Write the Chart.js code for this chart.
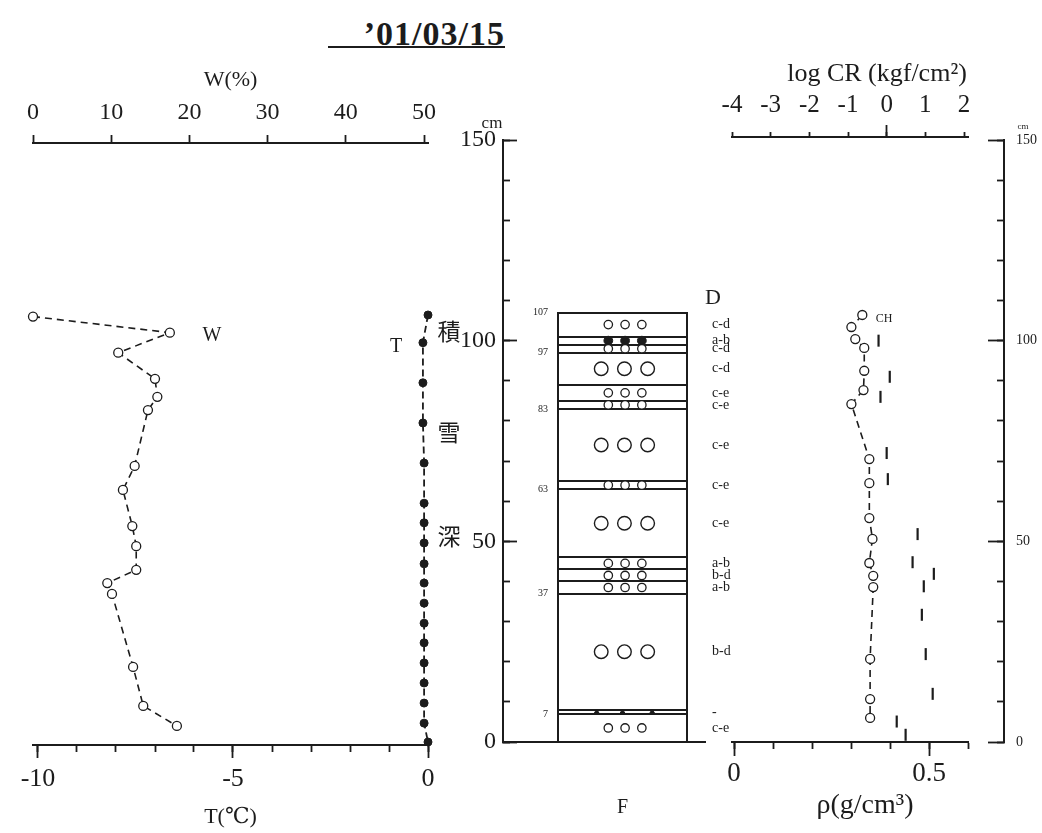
<!DOCTYPE html>
<html><head><meta charset="utf-8">
<script src="https://cdn.jsdelivr.net/npm/chart.js@4.4.1/dist/chart.umd.min.js"></script>
<style>
html,body{margin:0;padding:0;background:#fff;}
#wrap{position:relative;width:1042px;height:833px;overflow:hidden;background:#fff;}
canvas{position:absolute;top:0;}
#title{position:absolute;left:328px;top:21px;width:177px;height:25px;line-height:25px;text-align:right;
 font-family:'Liberation Serif',serif;font-weight:bold;font-size:34px;letter-spacing:1px;color:#1c1c1c;border-bottom:2px solid #1c1c1c;}
</style></head><body>
<div id="wrap">
<div id="title">’01/03/15</div>
<canvas id="cL" width="470" height="833" style="left:0px;width:470px;height:833px"></canvas>
<canvas id="cM" width="320" height="833" style="left:400px;width:320px;height:833px"></canvas>
<canvas id="cP" width="400" height="833" style="left:400px;width:400px;height:833px"></canvas>
<canvas id="cR" width="342" height="833" style="left:700px;width:342px;height:833px"></canvas>
<canvas id="cR2" width="82" height="833" style="left:960px;width:82px;height:833px"></canvas>
</div>
<script>
// ---------------- data ----------------
const wHeights = [106, 102, 97, 90.5, 86, 82.7, 68.8, 62.8, 53.8, 48.8, 42.9, 39.6, 36.9, 18.7, 9, 4];
const wValues  = [0, 17.5, 10.9, 15.6, 15.9, 14.7, 13.0, 11.5, 12.7, 13.2, 13.2, 9.5, 10.1, 12.8, 14.1, 18.4];
const tHeights = [106.4, 99.5, 89.5, 79.5, 69.5, 59.5, 54.6, 49.6, 44.4, 39.6, 34.6, 29.6, 24.7, 19.7, 14.7, 9.7, 4.7, 0];
const tValues  = [0, -0.13, -0.13, -0.13, -0.1, -0.1, -0.1, -0.1, -0.1, -0.1, -0.1, -0.1, -0.1, -0.1, -0.1, -0.1, -0.1, 0];
const rhoHeights = [106.4, 103.4, 100.4, 98.2, 92.5, 87.7, 84.2, 70.5, 64.5, 55.8, 50.6, 44.6, 41.4, 38.6, 20.7, 10.7, 6.0];
const rhoValues  = [0.329, 0.301, 0.311, 0.334, 0.334, 0.332, 0.301, 0.347, 0.347, 0.347, 0.355, 0.347, 0.357, 0.357, 0.349, 0.349, 0.349];
const crHeights = [100, 91, 86, 72, 65.5, 51.8, 44.8, 41.9, 38.8, 31.7, 21.9, 12, 5.1, 1.8];
const crValues  = [-0.21, 0.08, -0.16, 0, 0.03, 0.80, 0.67, 1.22, 0.96, 0.91, 1.01, 1.19, 0.26, 0.49];
const layerBounds = [0, 7, 8, 37, 40, 43, 46, 63, 65, 83, 85, 89, 97, 99, 101, 107];
const boundaryLabels = [7, 37, 63, 83, 97, 107];
const grainShapes = ['s','t','b','s','s','s','b','s','b','s','s','b','s','f','s'];
const grainSizes = ['c-e','-','b-d','a-b','b-d','a-b','c-e','c-e','c-e','c-e','c-e','c-d','c-d','a-b','c-d'];
const heightMinorTicks = [0,10,20,30,40,50,60,70,80,90,100,110,120,130,140,150];
const heightMajorTicks = [0,50,100,150];
const tMinorTicks = [-10,-9,-8,-7,-6,-5,-4,-3,-2,-1,0];
const tMajorTicks = [-10,-5,0];
const wTicks = [0,10,20,30,40,50];
const rhoMinorTicks = [0,0.1,0.2,0.3,0.4,0.5,0.6];
const rhoMajorTicks = [0,0.5];
const crTicks = [-4,-3,-2,-1,0,1,2];
const crMajorTicks = [0];

// ---------------- setup ----------------
const INK = '#1c1c1c';
const SERIF = "'Liberation Serif','DejaVu Serif',serif";
Chart.defaults.font.family = SERIF;
Chart.defaults.color = INK;
Chart.defaults.borderColor = INK;
const PXCM = 602 / 150;           // pixels per cm of snow height
const setTicks = arr => (s => { s.ticks = arr.map(v => ({value: v})); });
const zeroH = s => { s.height = 0; };
const zeroW = s => { s.width = 0; };
const fixH = h => (s => { s.height = h; });
const fixW = w => (s => { s.width = w; });
const pts = (xs, ys) => xs.map((x, i) => ({x: x, y: ys[i]}));
const baseOpts = (padding, scales) => ({
  responsive: false, animation: false, devicePixelRatio: 1, events: [],
  layout: {padding},
  plugins: {legend: {display: false}, tooltip: {enabled: false}, title: {display: false}},
  scales
});
const textPlugin = items => ({
  id: 'txt',
  afterDraw(chart) {
    const ctx = chart.ctx;
    ctx.save();
    items.forEach(it => {
      ctx.font = it.font; ctx.fillStyle = INK;
      ctx.textAlign = it.align || 'center'; ctx.textBaseline = 'middle';
      ctx.fillText(it.text, it.x, it.y);
    });
    ctx.restore();
  }
});
const tickGrid = len => ({drawOnChartArea: false, tickLength: len, tickWidth: 1.8, color: INK, tickColor: INK});

// ---------------- left panel: W and T ----------------
new Chart(document.getElementById('cL'), {
  type: 'scatter',
  data: {datasets: [
    {data: pts(wValues, wHeights), xAxisID: 'w', yAxisID: 'y', showLine: true, clip: false,
     borderColor: INK, borderWidth: 1.6, borderDash: [7, 5],
     pointRadius: 4.5, pointBackgroundColor: '#fff', pointBorderColor: INK, pointBorderWidth: 1.3},
    {data: pts(tValues, tHeights), xAxisID: 't', yAxisID: 'y', showLine: true, clip: false,
     borderColor: INK, borderWidth: 1.8, borderDash: [7, 4],
     pointRadius: 4, pointBackgroundColor: INK, pointBorderColor: INK, pointBorderWidth: 1}
  ]},
  options: baseOpts({left: 33, right: 42, top: 63, bottom: 3}, {
    y: {type: 'linear', min: -3 / PXCM, max: 150 - 3 / PXCM, display: false},
    tMin: {type: 'linear', axis: 'x', position: 'bottom', weight: 0, min: -10 - 5 / 39, max: 0,
      afterBuildTicks: setTicks(tMinorTicks), afterFit: zeroH,
      ticks: {display: false}, grid: tickGrid(7), border: {display: true, width: 2, color: INK}},
    t: {type: 'linear', axis: 'x', position: 'bottom', weight: 1, min: -10 - 5 / 39, max: 0,
      afterBuildTicks: setTicks(tMajorTicks), afterFit: fixH(85),
      ticks: {autoSkip: false, font: {size: 26}, padding: 6, maxRotation: 0, callback: v => String(v)},
      grid: tickGrid(13), border: {display: false},
      title: {display: true, text: 'T(℃)', font: {size: 22}, padding: 0}},
    w: {type: 'linear', axis: 'x', position: 'top', min: 0, max: 395 / 7.82,
      afterBuildTicks: setTicks(wTicks), afterFit: fixH(80),
      ticks: {autoSkip: false, font: {size: 24}, padding: 8, maxRotation: 0, callback: v => String(v)},
      grid: tickGrid(8), border: {display: true, width: 2, color: INK},
      title: {display: true, text: 'W(%)', font: {size: 22}, padding: {top: 4, bottom: 0}}}
  }),
  plugins: [textPlugin([
    {text: 'W', x: 212, y: 336, font: "20px " + SERIF},
    {text: 'T', x: 396, y: 347, font: "20px " + SERIF},
    {text: '積', x: 449, y: 331, font: "23px 'Noto Sans CJK JP'"},
    {text: '雪', x: 449, y: 432, font: "23px 'Noto Sans CJK JP'"},
    {text: '深', x: 449, y: 536, font: "23px 'Noto Sans CJK JP'"}
  ])]
});

// ---------------- middle height axis ----------------
new Chart(document.getElementById('cM'), {
  type: 'scatter',
  data: {datasets: []},
  options: baseOpts({left: 43, right: 15, top: 140, bottom: 91}, {
    x: {type: 'linear', position: 'bottom', min: 0, max: 1, afterFit: zeroH,
      ticks: {display: false}, grid: {display: false},
      border: {display: true, width: 2, color: INK, dash: [17, 22, 400]}},
    y: {type: 'linear', position: 'left', weight: 0, min: 0, max: 150,
      afterBuildTicks: setTicks(heightMinorTicks), afterFit: zeroW,
      ticks: {display: false}, grid: tickGrid(-7), border: {display: true, width: 2, color: INK}},
    yMaj: {type: 'linear', axis: 'y', position: 'left', weight: 1, min: 0, max: 150,
      afterBuildTicks: setTicks(heightMajorTicks), afterFit: fixW(60),
      ticks: {autoSkip: false, font: {size: 24}, padding: 21, callback: v => String(v)},
      grid: tickGrid(-14), border: {display: false}}
  }),
  plugins: [textPlugin([{text: 'cm', x: 92, y: 124, font: "17px " + SERIF}])]
});

// ---------------- snow pit column ----------------
const layerMids = layerBounds.slice(0, -1).map((b, i) => (b + layerBounds[i + 1]) / 2);
const SMALL_X = [0.39, 0.52, 0.65], BIG_X = [0.335, 0.515, 0.695], TRI_X = [0.30, 0.50, 0.73];
const symbolPts = (shape, xs) => layerMids.flatMap((m, i) => grainShapes[i] === shape ? xs.map(x => ({x: x, y: m})) : []);
new Chart(document.getElementById('cP'), {
  type: 'scatter',
  data: {datasets: [
    {data: symbolPts('s', SMALL_X), xAxisID: 'x', yAxisID: 'yL', pointRadius: 4.2, pointBackgroundColor: '#fff', pointBorderColor: INK, pointBorderWidth: 1.3, clip: false},
    {data: symbolPts('b', BIG_X), xAxisID: 'x', yAxisID: 'yL', pointRadius: 6.8, pointBackgroundColor: '#fff', pointBorderColor: INK, pointBorderWidth: 1.4, clip: false},
    {data: symbolPts('f', SMALL_X), xAxisID: 'x', yAxisID: 'yL', pointRadius: 4.4, pointBackgroundColor: INK, pointBorderColor: INK, pointBorderWidth: 1, clip: false},
    {data: symbolPts('t', TRI_X), xAxisID: 'x', yAxisID: 'yL', pointStyle: 'triangle', pointRadius: 2.8, pointBackgroundColor: INK, pointBorderColor: INK, pointBorderWidth: 1, clip: false}
  ]},
  options: baseOpts({left: 108, right: 53, top: 742 - 107 * PXCM, bottom: 13}, {
    x: {type: 'linear', position: 'bottom', min: 0, max: 1, afterFit: fixH(78),
      ticks: {display: false}, grid: {display: false}, border: {display: false},
      title: {display: true, text: 'F', font: {size: 20}, padding: 0}},
    yL: {type: 'linear', axis: 'y', position: 'left', min: 0, max: 107,
      afterBuildTicks: setTicks(layerBounds), afterFit: fixW(50),
      ticks: {autoSkip: false, font: {size: 10}, padding: 10, callback: v => boundaryLabels.includes(v) ? String(v) : ''},
      grid: {drawOnChartArea: true, drawTicks: false, lineWidth: 2, color: INK},
      border: {display: true, width: 2, color: INK}},
    yR: {type: 'linear', axis: 'y', position: 'right', min: 0, max: 107,
      afterBuildTicks: setTicks(layerMids), afterFit: fixW(60),
      ticks: {autoSkip: false, font: {size: 14}, padding: 25, callback: (v, i) => grainSizes[i]},
      grid: {display: false, drawTicks: false},
      border: {display: true, width: 2, color: INK}}
  }),
  plugins: [textPlugin([{text: 'D', x: 313, y: 298, font: "22px " + SERIF}])]
});

// ---------------- right panel: density and log CR ----------------
new Chart(document.getElementById('cR'), {
  type: 'scatter',
  data: {datasets: [
    {data: pts(rhoValues, rhoHeights), xAxisID: 'rho', yAxisID: 'y', showLine: true, clip: false,
     borderColor: INK, borderWidth: 1.6, borderDash: [7, 5],
     pointRadius: 4.5, pointBackgroundColor: '#fff', pointBorderColor: INK, pointBorderWidth: 1.3},
    {data: pts(crValues, crHeights), xAxisID: 'cr', yAxisID: 'y', showLine: false, clip: false,
     pointStyle: 'line', rotation: 90, pointRadius: 6, pointBorderColor: INK, pointBorderWidth: 2.2}
  ]},
  options: baseOpts({left: 32, right: 74, top: 75, bottom: 41}, {
    y: {type: 'linear', min: 0, max: 150 + 3 / PXCM, display: false},
    rhoMin: {type: 'linear', axis: 'x', position: 'bottom', weight: 0, min: -2 / 390, max: 0.6,
      afterBuildTicks: setTicks(rhoMinorTicks), afterFit: zeroH,
      ticks: {display: false}, grid: tickGrid(7), border: {display: true, width: 2, color: INK}},
    rho: {type: 'linear', axis: 'x', position: 'bottom', weight: 1, min: -2 / 390, max: 0.6,
      afterBuildTicks: setTicks(rhoMajorTicks), afterFit: fixH(50),
      ticks: {autoSkip: false, font: {size: 27}, padding: 2, maxRotation: 0, callback: v => String(v)},
      grid: tickGrid(14), border: {display: false}},
    cr: {type: 'linear', axis: 'x', position: 'top', weight: 1, min: -4, max: -4 + 236 / 38.667,
      afterBuildTicks: setTicks(crTicks), afterFit: fixH(62),
      ticks: {autoSkip: false, font: {size: 25}, padding: 12, maxRotation: 0, callback: v => String(v)},
      grid: tickGrid(5), border: {display: true, width: 2, color: INK}},
    crMaj: {type: 'linear', axis: 'x', position: 'top', weight: 0, min: -4, max: -4 + 236 / 38.667,
      afterBuildTicks: setTicks(crMajorTicks), afterFit: zeroH,
      ticks: {display: false}, grid: tickGrid(12), border: {display: false}}
  }),
  plugins: [textPlugin([
    {text: 'ρ(g/cm³)', x: 165, y: 806, font: "28px " + SERIF},
    {text: 'log CR (kgf/cm²)', x: 177, y: 74, font: "26px " + SERIF},
    {text: 'CH', x: 184, y: 319, font: "12px " + SERIF}
  ])]
});

// ---------------- right height axis ----------------
new Chart(document.getElementById('cR2'), {
  type: 'scatter',
  data: {datasets: []},
  options: baseOpts({left: 0, right: 0, top: 140, bottom: 91}, {
    yMin: {type: 'linear', axis: 'y', position: 'right', weight: 0, min: 0, max: 150,
      afterBuildTicks: setTicks(heightMinorTicks), afterFit: zeroW,
      ticks: {display: false}, grid: tickGrid(-7), border: {display: true, width: 2, color: INK}},
    yMaj: {type: 'linear', axis: 'y', position: 'right', weight: 1, min: 0, max: 150,
      afterBuildTicks: setTicks(heightMajorTicks), afterFit: fixW(38),
      ticks: {autoSkip: false, font: {size: 14}, padding: 28, callback: v => String(v)},
      grid: tickGrid(-16), border: {display: false}}
  }),
  plugins: [textPlugin([{text: 'cm', x: 63, y: 127, font: "9px " + SERIF}])]
});
</script>
</body></html>
